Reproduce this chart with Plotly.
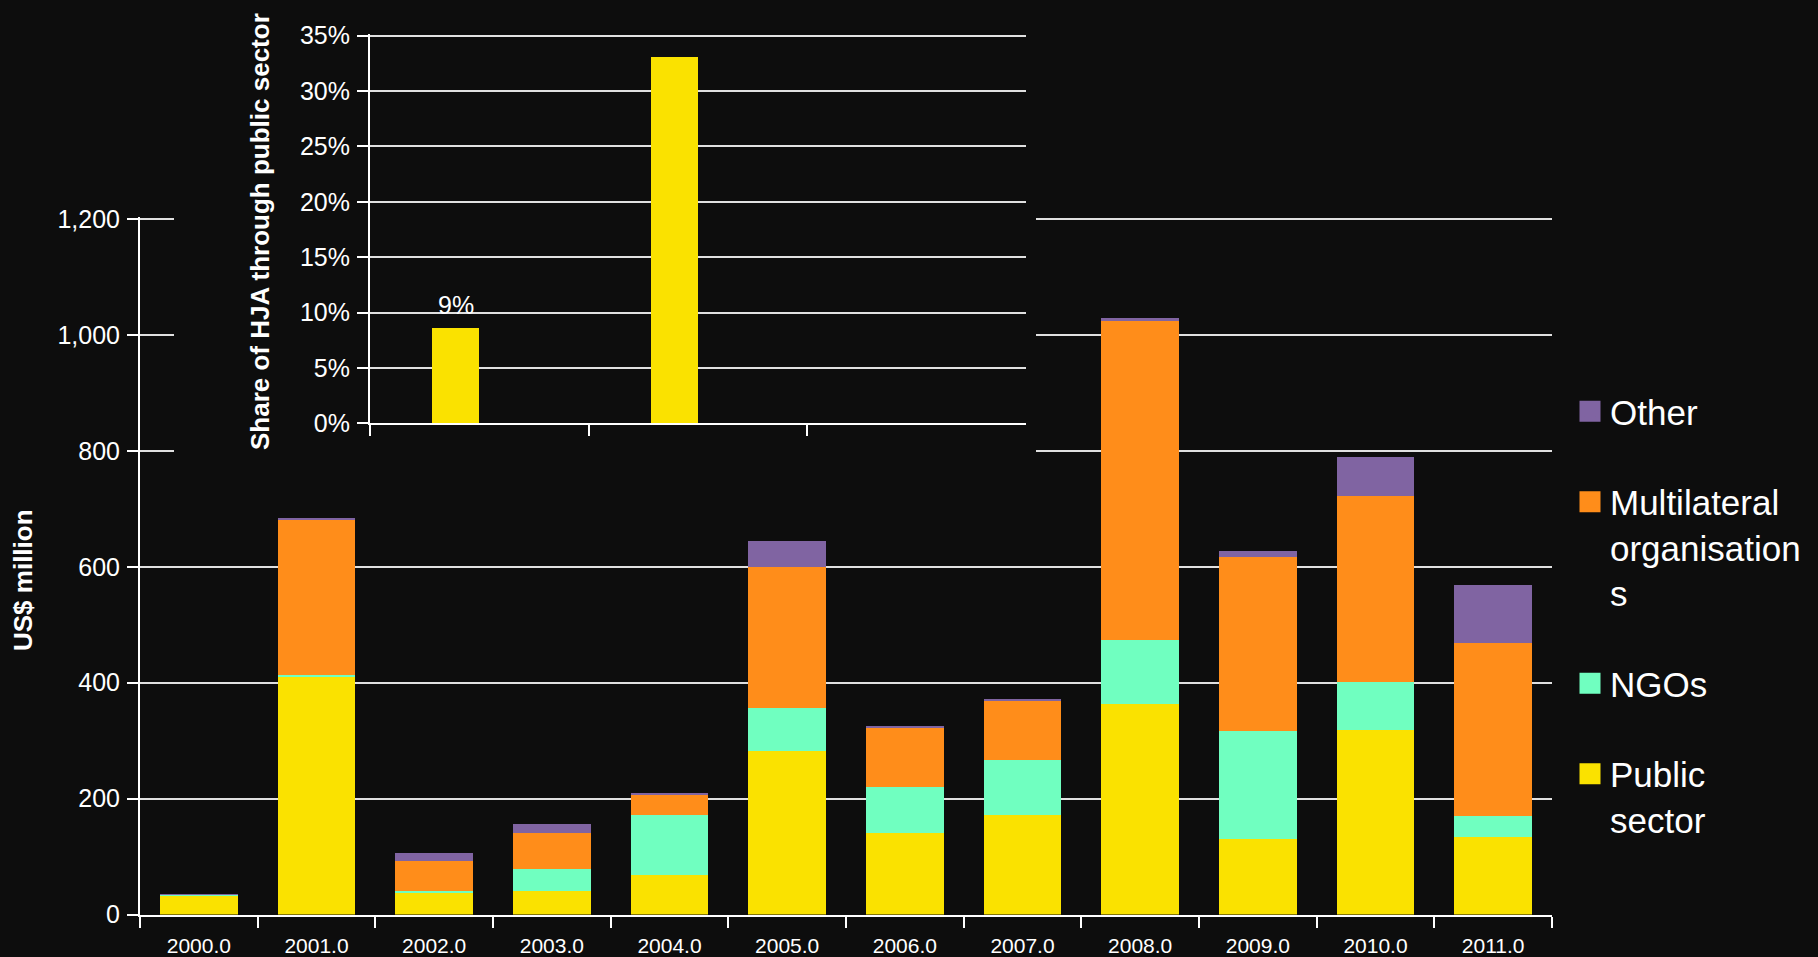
import plotly.graph_objects as go

# ---------------- data ----------------
year_labels = ["2000.0", "2001.0", "2002.0", "2003.0", "2004.0", "2005.0",
               "2006.0", "2007.0", "2008.0", "2009.0", "2010.0", "2011.0"]
public_sector = [31.5, 411, 37, 40, 68, 282, 140, 171, 364, 131, 319, 133]
ngos = [2.5, 2, 4, 39, 104, 75, 80, 96, 110, 186, 82, 37]
multilateral = [0, 268, 51, 62, 35, 242, 102, 102, 550, 299, 321, 299]
other = [0.5, 2, 14, 16, 2, 46, 4, 1.5, 6, 12, 68, 100]

series_names = ["Public<br>sector", "NGOs", "Multilateral<br>organisation<br>s", "Other"]

inset_categories = ["A", "B", "C"]
inset_share = [0.086, 0.331, None]
inset_labels = ["9%", "", ""]

main_ticks = [0, 200, 400, 600, 800, 1000, 1200]
inset_ticks = [0, 0.05, 0.10, 0.15, 0.20, 0.25, 0.30, 0.35]

# ---------------- style ----------------
BG = "#0d0d0d"
FG = "#ffffff"
GRID = "#e0e0e0"
COLORS = ["#FAE200", "#70FFC0", "#FF8D1A", "#8064A2"]
FONT = "Liberation Sans, Arial, sans-serif"
W, H = 1818, 957

fig = go.Figure()

values = [public_sector, ngos, multilateral, other]
for name, vals, col in zip(series_names, values, COLORS):
    fig.add_trace(go.Bar(
        x=year_labels, y=vals, name=name.replace("<br>", " "),
        marker=dict(color=col, line=dict(width=0)),
        showlegend=False, xaxis="x", yaxis="y",
    ))

# empty layer that masks the main gridlines behind the inset
fig.add_trace(go.Scatter(x=[], y=[], xaxis="x2", yaxis="y2",
                         showlegend=False, hoverinfo="skip"))

# inset bar chart
fig.add_trace(go.Bar(
    x=inset_categories, y=inset_share, name="Share through public sector",
    marker=dict(color=COLORS[0], line=dict(width=0)),
    width=0.215, offset=-0.215,
    showlegend=False, xaxis="x3", yaxis="y3",
))

# legend entries (large square swatches)
for name, col in reversed(list(zip(series_names, COLORS))):
    fig.add_trace(go.Scatter(
        x=[None], y=[None], mode="markers", name=name,
        legendgroup=name,
        marker=dict(symbol="square", size=16, color=col,
                    line=dict(color=col, width=5)),
        xaxis="x", yaxis="y", hoverinfo="skip",
    ))

# ---------------- layout ----------------
def px_x(p):
    return p / W

def px_y(p):
    return 1 - p / H

line_common = dict(
    showline=True, linecolor=FG, linewidth=2,
    ticks="outside", ticklen=11, tickwidth=2, tickcolor=FG,
    zeroline=False,
)
tick_font = dict(family=FONT, size=25, color=FG)
hidden_axis = dict(visible=True, showgrid=False, showline=False, zeroline=False,
                   showticklabels=False, ticks="", range=[0, 1], fixedrange=True)

# main plot: 0 at y=914.5px, 1200 at y=219px (small headroom keeps top gridline)
main_top = 1203
main_scale = (914.5 - 219) / 1200
inset_top = 0.3516
inset_scale = (423.3 - 35.7) / 0.35

fig.update_layout(
    width=W, height=H,
    margin=dict(l=0, r=0, t=0, b=0, autoexpand=False),
    paper_bgcolor=BG, plot_bgcolor=BG,
    barmode="stack", bargap=0.34,
    font=dict(family=FONT, color=FG),
    xaxis=dict(
        **line_common,
        tickfont=dict(family=FONT, size=21, color=FG),
        domain=[px_x(140), px_x(1552)],
        type="category", categoryorder="array", categoryarray=year_labels,
        range=[-0.5, len(year_labels) - 0.5],
        tickson="boundaries", showgrid=False,
        ticklabelstandoff=11,
        anchor="y",
    ),
    yaxis=dict(
        **line_common,
        tickfont=tick_font,
        domain=[px_y(914.5), px_y(914.5 - main_top * main_scale)],
        range=[0, main_top], tickvals=main_ticks, tickformat=",d",
        showgrid=True, gridcolor=GRID, gridwidth=2,
        ticklabelstandoff=2,
        anchor="x",
    ),
    xaxis2=dict(**hidden_axis, domain=[px_x(174), px_x(1036)], anchor="y2"),
    yaxis2=dict(**hidden_axis, domain=[px_y(462), 1.0], anchor="x2"),
    xaxis3=dict(
        **line_common,
        domain=[px_x(370), px_x(1026)],
        type="category", categoryorder="array", categoryarray=inset_categories,
        range=[-0.5, len(inset_categories) - 0.5],
        tickson="boundaries", showgrid=False, showticklabels=False,
        anchor="y3",
    ),
    yaxis3=dict(
        **line_common,
        tickfont=tick_font,
        domain=[px_y(423.3), px_y(423.3 - inset_top * inset_scale)],
        range=[0, inset_top], tickvals=inset_ticks, tickformat=".0%",
        showgrid=True, gridcolor=GRID, gridwidth=2,
        ticklabelstandoff=2,
        anchor="x3",
    ),
    legend=dict(
        x=px_x(1570), xanchor="left",
        y=px_y(382), yanchor="top",
        traceorder="grouped", tracegroupgap=42, valign="top",
        font=dict(family=FONT, size=35, color=FG),
        bgcolor="rgba(0,0,0,0)", borderwidth=0,
        itemclick=False, itemdoubleclick=False,
    ),
    showlegend=True,
)

# value label above the first inset bar
for cat, val, lab in zip(inset_categories, inset_share, inset_labels):
    if lab and val is not None:
        fig.add_annotation(
            text=lab, xref="x3", yref="y3", x=cat, y=val,
            xanchor="center", yanchor="bottom", xshift=-0.1075 * 218.7,
            yshift=7, showarrow=False,
            font=dict(family=FONT, size=25, color=FG),
        )

# axis titles
fig.add_annotation(
    text="<b>US$ million</b>", textangle=-90,
    xref="paper", yref="paper", x=px_x(23), y=px_y(580),
    xanchor="center", yanchor="middle", showarrow=False,
    font=dict(family=FONT, size=26, color=FG),
)
fig.add_annotation(
    text="<b>Share of HJA through public sector</b>", textangle=-90,
    xref="paper", yref="paper", x=px_x(260), y=px_y(232),
    xanchor="center", yanchor="middle", showarrow=False,
    font=dict(family=FONT, size=26, color=FG),
)

fig.write_html("out.html", config={"displayModeBar": False},
               post_script="document.body.style.margin='0px';")
